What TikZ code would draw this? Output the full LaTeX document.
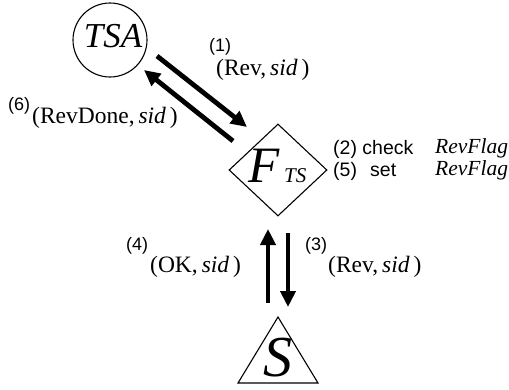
\documentclass[tikz,border=0pt]{standalone}
\usepackage{fontspec}
\setmainfont{Liberation Serif}
\setsansfont{Liberation Sans}
\usetikzlibrary{shapes.geometric,arrows.meta}
\begin{document}
\begin{tikzpicture}[x=1pt,y=-1pt,
  party/.style={draw,line width=1.1pt,inner sep=0},
  msg/.style={line width=4.8pt,-{Triangle[length=16pt,width=15pt]}},
  txt/.style={inner sep=0,anchor=base west,font=\fontsize{23.5}{23.5}\selectfont},
  num/.style={inner sep=0,anchor=base west,font=\sffamily\fontsize{18}{18}\selectfont},
  act/.style={inner sep=0,anchor=base west,font=\sffamily\fontsize{19.5}{19.5}\selectfont},
  flag/.style={inner sep=0,anchor=base west,font=\itshape\fontsize{21.5}{21.5}\selectfont}]
\useasboundingbox (0,0) rectangle (509,389);

% parties
\node[party,circle,minimum size=74pt] (tsa) at (110,40) {};
\node[inner sep=0,anchor=base,font=\itshape\fontsize{35}{35}\selectfont] (tsaname) at (113,47) {TSA};

\node[party,diamond,minimum width=98pt,minimum height=92pt] (fts) at (278,170) {};
\node[inner sep=0,anchor=base west,font=\itshape\fontsize{51}{51}\selectfont] (ftsF) at (248,182) {F};
\node[inner sep=0,anchor=base west,font=\itshape\fontsize{21}{21}\selectfont] (ftsTS) at (284,182) {TS};

\coordinate (sapex) at (278,317);
\coordinate (sleft) at (238,383);
\coordinate (sright) at (318,383);
\draw[line width=1.1pt,line join=miter] (sapex) -- (sleft) -- (sright) -- cycle;
\node[inner sep=0,anchor=base,font=\itshape\fontsize{58}{58}\selectfont] (sname) at (278,376) {S};

% message arrows
\coordinate (m1a) at (157,56);  \coordinate (m1b) at (247,127);
\coordinate (m6a) at (233,141); \coordinate (m6b) at (144,70);
\coordinate (m4a) at (268,303); \coordinate (m4b) at (268,229);
\coordinate (m3a) at (288,233); \coordinate (m3b) at (288,307);
\draw[msg] (m1a) -- (m1b);
\draw[msg] (m6a) -- (m6b);
\draw[msg] (m4a) -- (m4b);
\draw[msg] (m3a) -- (m3b);

% message labels
\node[num] (n1) at (209,51) {(1)};
\node[txt] (l1) at (216,75) {(Rev,\,\textit{sid}\,)};
\node[num] (n6) at (8,110) {(6)};
\node[txt] (l6) at (32,123) {(RevDone,\,\textit{sid}\,)};
\node[num] (n4) at (126,250) {(4)};
\node[txt] (l4) at (150,272) {(OK,\,\textit{sid}\,)};
\node[num] (n3) at (305,250) {(3)};
\node[txt] (l3) at (328,272) {(Rev,\,\textit{sid}\,)};

% flag handling at the functionality
\node[act] (n2) at (333,154) {(2) check};
\node[flag] (f2) at (435,153) {RevFlag};
\node[act] (n5) at (333,176) {(5)};
\node[act] (s5) at (370,176) {set};
\node[flag] (f5) at (435,175) {RevFlag};
\end{tikzpicture}
\end{document}
